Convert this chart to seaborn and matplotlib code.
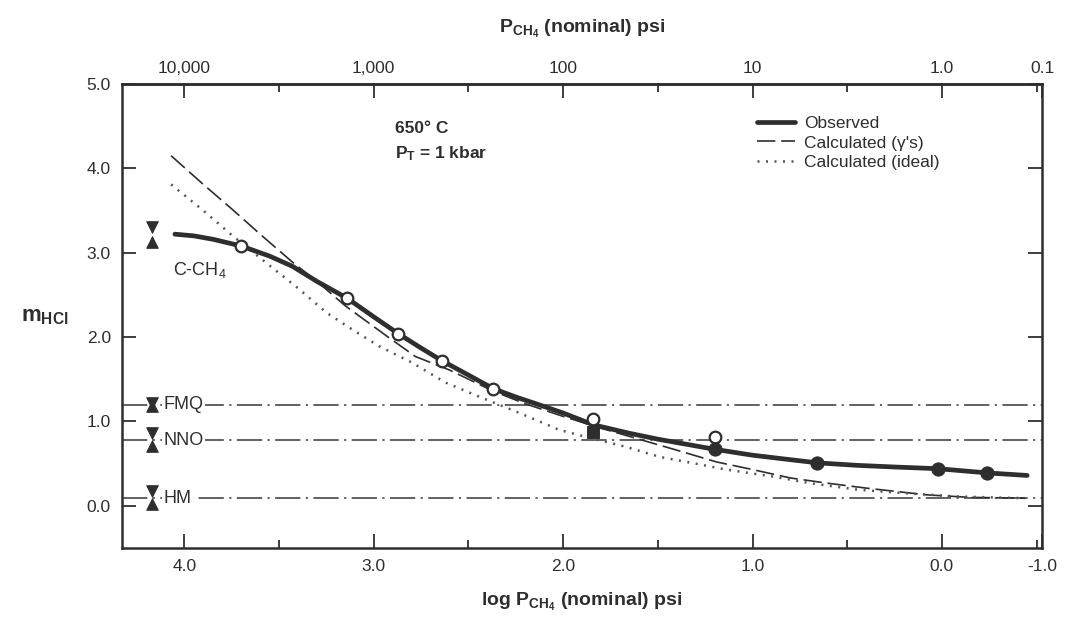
import numpy as np
import pandas as pd
import seaborn as sns
import matplotlib.pyplot as plt
from matplotlib.ticker import MultipleLocator

# observed curve (smooth line) and measured points
obs_curve_x = [4.05, 3.95, 3.85, 3.70, 3.55, 3.43, 3.30, 3.14, 3.00, 2.87, 2.75, 2.64, 2.50, 2.37,
               2.25, 2.13, 2.00, 1.84, 1.65, 1.50, 1.35, 1.20, 1.00, 0.85, 0.66, 0.45, 0.25, 0.02,
               -0.24, -0.45]
obs_curve_y = [3.22, 3.20, 3.16, 3.08, 2.96, 2.84, 2.66, 2.46, 2.24, 2.04, 1.87, 1.72, 1.55, 1.39,
               1.29, 1.20, 1.10, 0.96, 0.86, 0.79, 0.73, 0.67, 0.60, 0.56, 0.51, 0.48, 0.46, 0.44,
               0.39, 0.36]
open_x = [3.70, 3.14, 2.87, 2.64, 2.37, 1.84, 1.20]
open_y = [3.08, 2.46, 2.04, 1.72, 1.39, 1.03, 0.81]
filled_x = [1.20, 0.66, 0.02, -0.24]
filled_y = [0.67, 0.51, 0.44, 0.39]
square_x = [1.84]
square_y = [0.87]

# calculated with activity coefficients
gamma_x = [4.07, 3.90, 3.75, 3.60, 3.43, 3.30, 3.15, 2.93, 2.78, 2.60, 2.37, 2.20, 2.00, 1.80,
           1.60, 1.40, 1.19, 1.00, 0.80, 0.61, 0.40, 0.20, 0.08, -0.15, -0.44]
gamma_y = [4.15, 3.81, 3.52, 3.22, 2.89, 2.66, 2.37, 2.01, 1.77, 1.61, 1.36, 1.21, 1.06, 0.92,
           0.79, 0.66, 0.52, 0.43, 0.33, 0.27, 0.21, 0.16, 0.13, 0.10, 0.09]

# calculated ideal
ideal_x = [4.07, 3.90, 3.75, 3.59, 3.40, 3.25, 3.10, 2.97, 2.80, 2.62, 2.45, 2.23, 2.02, 1.85,
           1.67, 1.49, 1.30, 1.14, 0.90, 0.70, 0.44, 0.20, -0.09, -0.44]
ideal_y = [3.81, 3.50, 3.21, 2.92, 2.58, 2.29, 2.07, 1.89, 1.70, 1.46, 1.30, 1.10, 0.90, 0.80,
           0.70, 0.58, 0.50, 0.43, 0.35, 0.27, 0.19, 0.15, 0.11, 0.09]

# buffers: range shown by triangles, reference line level
buffers = ["C-CH$_4$", "FMQ", "NNO", "HM"]
buffer_hi = [3.30, 1.22, 0.86, 0.17]
buffer_lo = [3.13, 1.18, 0.71, 0.02]
buffer_line = [None, 1.20, 0.78, 0.09]

bottom_ticks = [4, 3, 2, 1, 0, -0.53]
bottom_labels = ["4.0", "3.0", "2.0", "1.0", "0.0", "-1.0"]
top_labels = ["10,000", "1,000", "100", "10", "1.0", "0.1"]

sns.set_theme(style="ticks")
plt.rcParams["font.family"] = ["Liberation Sans", "DejaVu Sans"]
plt.rcParams["mathtext.fontset"] = "custom"
plt.rcParams["mathtext.rm"] = "Liberation Sans"
plt.rcParams["mathtext.bf"] = "Liberation Sans:bold"
plt.rcParams["mathtext.it"] = "Liberation Sans:italic"

ink = "#2e2e2e"
fig = plt.figure(figsize=(10.69, 6.27), dpi=100)
ax = fig.add_axes([0.114, 0.126, 0.861, 0.740])

# buffer reference lines
for lvl in buffer_line:
    if lvl is not None:
        ax.axhline(lvl, color="#555555", lw=1.3, ls=(0, (14, 3, 1.2, 3)), zorder=1)

sns.lineplot(x=gamma_x, y=gamma_y, sort=False, estimator=None, ax=ax, color=ink, lw=1.2,
             dashes=False, label="Calculated (γ's)", zorder=2).lines[-1].set_dashes((11, 3.5))
sns.lineplot(x=ideal_x, y=ideal_y, sort=False, estimator=None, ax=ax, color="#555555", lw=1.8,
             label="Calculated (ideal)", zorder=2).lines[-1].set_dashes((0.8, 2.6))
sns.lineplot(x=obs_curve_x, y=obs_curve_y, sort=False, estimator=None, ax=ax, color=ink, lw=3.4,
             label="Observed", zorder=3)

sns.scatterplot(x=open_x, y=open_y, ax=ax, s=70, marker="o", facecolor="white",
                edgecolor=ink, linewidth=1.6, zorder=4)
sns.scatterplot(x=filled_x, y=filled_y, ax=ax, s=90, marker="o", color=ink,
                edgecolor=ink, zorder=4)
sns.scatterplot(x=square_x, y=square_y, ax=ax, s=70, marker="s", color=ink,
                edgecolor=ink, zorder=4)

# buffer markers and names
tri_x = 4.17
sns.scatterplot(x=[tri_x] * 4, y=buffer_hi, ax=ax, marker="v", s=70, color=ink,
                edgecolor=ink, zorder=5)
sns.scatterplot(x=[tri_x] * 4, y=buffer_lo, ax=ax, marker="^", s=70, color=ink,
                edgecolor=ink, zorder=5)
for name, lvl in zip(buffers[1:], buffer_line[1:]):
    ax.text(4.11, lvl, name, fontsize=13, color=ink, va="center", ha="left", zorder=4,
            bbox=dict(facecolor="white", edgecolor="none", pad=1.0))
ax.text(3.92, 2.80, buffers[0], fontsize=13, color=ink, va="center", ha="center")

ax.text(2.89, 4.47, "650° C", fontsize=12.5, fontweight="bold", color=ink, va="center")
ax.text(2.89, 4.18, r"$\mathbf{P_T}$ = 1 kbar", fontsize=12.5, fontweight="bold",
        color=ink, va="center")

handles, labels = ax.get_legend_handles_labels()
order = [labels.index(l) for l in ["Observed", "Calculated (γ's)", "Calculated (ideal)"]]
leg = ax.legend([handles[i] for i in order], [labels[i] for i in order], loc="upper right",
                bbox_to_anchor=(0.905, 0.965), frameon=False, fontsize=12.5, handlelength=2.2,
                handletextpad=0.5, labelspacing=0.25)
for t in leg.get_texts():
    t.set_color(ink)

ax.set_xlim(4.33, -0.53)
ax.set_ylim(-0.5, 5.0)
ax.set_xticks(bottom_ticks, labels=bottom_labels)
ax.xaxis.set_minor_locator(MultipleLocator(0.5))
ax.set_yticks([0, 1, 2, 3, 4, 5], labels=["0.0", "1.0", "2.0", "3.0", "4.0", "5.0"])
ax.tick_params(axis="both", which="major", direction="in", length=10, width=1.3,
               labelsize=12.5, colors=ink, pad=8)
ax.tick_params(axis="x", which="minor", direction="in", length=6, width=1.3, colors=ink)
ax.tick_params(axis="y", right=True)
for s in ax.spines.values():
    s.set_linewidth(1.8)
    s.set_color(ink)

sec = ax.secondary_xaxis("top")
sec.set_xticks(bottom_ticks, labels=top_labels)
sec.xaxis.set_minor_locator(MultipleLocator(0.5))
sec.tick_params(axis="x", which="major", direction="in", length=10, width=1.3,
                labelsize=12.5, colors=ink, pad=6)
sec.tick_params(axis="x", which="minor", direction="in", length=6, width=1.3, colors=ink)
sec.spines["top"].set_linewidth(1.8)
sec.spines["top"].set_color(ink)
sec.set_xlabel(r"$\mathbf{P_{CH_4}}$ (nominal) psi", fontsize=14, fontweight="bold",
               color=ink, labelpad=20)

ax.set_xlabel(r"log $\mathbf{P_{CH_4}}$ (nominal) psi", fontsize=14, fontweight="bold",
              color=ink, labelpad=12)
ax.set_ylabel(r"$\mathbf{m_{HCl}}$", fontsize=16, fontweight="bold", color=ink, rotation=0,
              labelpad=30, va="center")

fig.savefig("out.png", dpi=100)
